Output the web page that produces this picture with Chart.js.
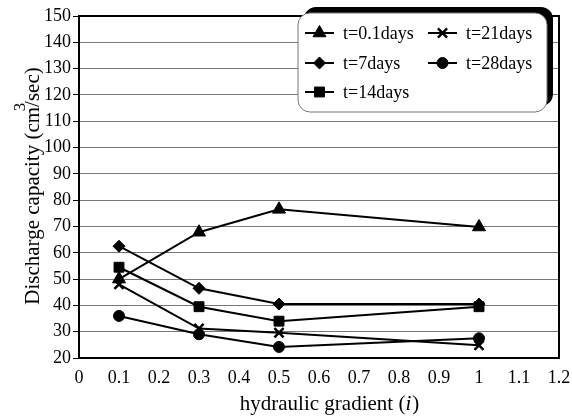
<!DOCTYPE html>
<html>
<head>
<meta charset="utf-8">
<script src="https://cdn.jsdelivr.net/npm/chart.js@4"></script>
<style>
  html, body { margin: 0; padding: 0; background: #fff; }
  #wrap { width: 572px; height: 416px; position: relative; }
</style>
</head>
<body>
<div id="wrap"><canvas id="c" width="572" height="416"></canvas></div>
<script>
// Hydraulic gradient values where discharge capacity was measured
const gradients = [0.1, 0.3, 0.5, 1.0];

// Discharge capacity (cm3/sec) for each elapsed time
const day0_1 = [50.0, 67.8, 76.5, 69.8];
const day7   = [62.5, 46.5, 40.5, 40.5];
const day14  = [54.5, 39.5, 34.0, 39.5];
const day21  = [48.0, 31.2, 29.6, 24.8];
const day28  = [36.0, 29.0, 24.2, 27.5];

const seriesNames = ['t=0.1days', 't=7days', 't=14days', 't=21days', 't=28days'];

const xTickLabels = ['0', '0.1', '0.2', '0.3', '0.4', '0.5', '0.6', '0.7', '0.8', '0.9', '1', '1.1', '1.2'];
const yTickLabels = ['20', '30', '40', '50', '60', '70', '80', '90', '100', '110', '120', '130', '140', '150'];

const xTitle = 'hydraulic gradient (';
const xTitleItalic = 'i';
const yTitle = 'Discharge capacity (cm/sec)';

const SERIF = '"Liberation Serif", "Times New Roman", serif';

function pts(vals) {
  return vals.map((v, i) => ({ x: gradients[i], y: v }));
}

const markerStyles = [
  { pointStyle: 'triangle', radius: 7.5 },
  { pointStyle: 'rectRot', radius: 6 },
  { pointStyle: 'rect', radius: 7 },
  { pointStyle: 'crossRot', radius: 6.5 },
  { pointStyle: 'circle', radius: 5.5 }
];

const allValues = [day0_1, day7, day14, day21, day28];

const datasets = allValues.map((vals, i) => ({
  label: seriesNames[i],
  data: pts(vals),
  borderColor: '#000',
  backgroundColor: '#000',
  borderWidth: 2,
  pointStyle: markerStyles[i].pointStyle,
  pointRadius: markerStyles[i].radius,
  pointBorderWidth: markerStyles[i].pointStyle === 'crossRot' ? 2.5 : 1,
  pointBackgroundColor: '#000',
  pointBorderColor: '#000',
  tension: 0,
  fill: false
}));

function roundRect(ctx, x, y, w, h, r) {
  ctx.beginPath();
  ctx.moveTo(x + r, y);
  ctx.lineTo(x + w - r, y);
  ctx.arcTo(x + w, y, x + w, y + r, r);
  ctx.lineTo(x + w, y + h - r);
  ctx.arcTo(x + w, y + h, x + w - r, y + h, r);
  ctx.lineTo(x + r, y + h);
  ctx.arcTo(x, y + h, x, y + h - r, r);
  ctx.lineTo(x, y + r);
  ctx.arcTo(x, y, x + r, y, r);
  ctx.closePath();
}

// Frame around the plot area, axis titles and the boxed legend
const decorations = {
  id: 'decorations',
  afterDraw(chart) {
    const ctx = chart.ctx;
    const a = chart.chartArea;
    ctx.save();

    // plot frame
    ctx.strokeStyle = '#000';
    ctx.lineWidth = 2;
    ctx.strokeRect(a.left, a.top, a.right - a.left, a.bottom - a.top);

    // x title with italic variable
    ctx.fillStyle = '#000';
    ctx.textBaseline = 'middle';
    ctx.font = '21px ' + SERIF;
    const w1 = ctx.measureText(xTitle).width;
    ctx.font = 'italic 21px ' + SERIF;
    const w2 = ctx.measureText(xTitleItalic).width;
    ctx.font = '21px ' + SERIF;
    const w3 = ctx.measureText(')').width;
    const total = w1 + w2 + w3;
    let tx = 329 - total / 2;
    const ty = 404;
    ctx.textAlign = 'left';
    ctx.fillText(xTitle, tx, ty);
    ctx.font = 'italic 21px ' + SERIF;
    ctx.fillText(xTitleItalic, tx + w1, ty);
    ctx.font = '21px ' + SERIF;
    ctx.fillText(')', tx + w1 + w2 + 1, ty);

    // y title, rotated, with superscript 3
    ctx.save();
    ctx.translate(33, 186);
    ctx.rotate(-Math.PI / 2);
    ctx.font = '21px ' + SERIF;
    ctx.textAlign = 'center';
    ctx.fillText(yTitle, 0, 0);
    const W = ctx.measureText(yTitle).width;
    const pre = ctx.measureText('Discharge capacity (cm').width;
    ctx.font = '17px ' + SERIF;
    ctx.fillText('3', -W / 2 + pre, -12);
    ctx.restore();

    // legend: black shadow then white rounded box
    const bx = 298, by = 13, bw = 249, bh = 99;
    ctx.fillStyle = '#000';
    roundRect(ctx, bx + 6, by - 6, bw, bh, 12);
    ctx.fill();
    ctx.fillStyle = '#fff';
    roundRect(ctx, bx, by, bw, bh, 12);
    ctx.fill();
    ctx.strokeStyle = '#777';
    ctx.lineWidth = 1;
    ctx.stroke();

    const layout = [
      { ds: 0, x: 305, y: 33 },
      { ds: 3, x: 428, y: 33 },
      { ds: 1, x: 305, y: 63 },
      { ds: 4, x: 428, y: 63 },
      { ds: 2, x: 305, y: 92 }
    ];
    layout.forEach(item => {
      const d = chart.data.datasets[item.ds];
      ctx.strokeStyle = '#000';
      ctx.lineWidth = 2;
      ctx.beginPath();
      ctx.moveTo(item.x, item.y);
      ctx.lineTo(item.x + 29, item.y);
      ctx.stroke();
      ctx.fillStyle = '#000';
      ctx.lineWidth = d.pointBorderWidth;
      Chart.helpers.drawPoint(ctx, {
        pointStyle: d.pointStyle,
        radius: d.pointRadius,
        rotation: 0,
        borderWidth: d.pointBorderWidth
      }, item.x + 14.5, item.y);
      ctx.fillStyle = '#000';
      ctx.font = '18px ' + SERIF;
      ctx.textAlign = 'left';
      ctx.textBaseline = 'middle';
      ctx.fillText(d.label, item.x + 38, item.y + 1);
    });

    ctx.restore();
  }
};

new Chart(document.getElementById('c'), {
  type: 'line',
  data: { datasets },
  options: {
    responsive: false,
    animation: false,
    devicePixelRatio: 1,
    layout: { padding: { top: 16, right: 13, left: 0, bottom: 0 } },
    plugins: {
      legend: { display: false },
      tooltip: { enabled: false },
      title: { display: false }
    },
    scales: {
      x: {
        type: 'linear',
        min: 0,
        max: 1.2,
        afterFit(scale) {
          scale.height = 58;
          scale.paddingLeft = 0;
          scale.paddingRight = 0;
        },
        ticks: {
          stepSize: 0.1,
          autoSkip: false,
          maxRotation: 0,
          padding: 9,
          color: '#000',
          font: { family: SERIF, size: 18 },
          callback: (v, i) => xTickLabels[i]
        },
        grid: { display: false, drawTicks: false },
        border: { display: true, color: '#000', width: 2 }
      },
      y: {
        type: 'linear',
        min: 20,
        max: 150,
        afterFit(scale) {
          scale.width = 79;
          scale.paddingTop = 0;
          scale.paddingBottom = 0;
        },
        ticks: {
          stepSize: 10,
          padding: 2,
          color: '#000',
          font: { family: SERIF, size: 18 },
          callback: (v, i) => yTickLabels[i]
        },
        grid: {
          color: '#777',
          lineWidth: 1,
          tickLength: 6,
          tickColor: '#000',
          drawTicks: true
        },
        border: { display: true, color: '#000', width: 2 }
      }
    }
  },
  plugins: [decorations]
});
</script>
</body>
</html>
